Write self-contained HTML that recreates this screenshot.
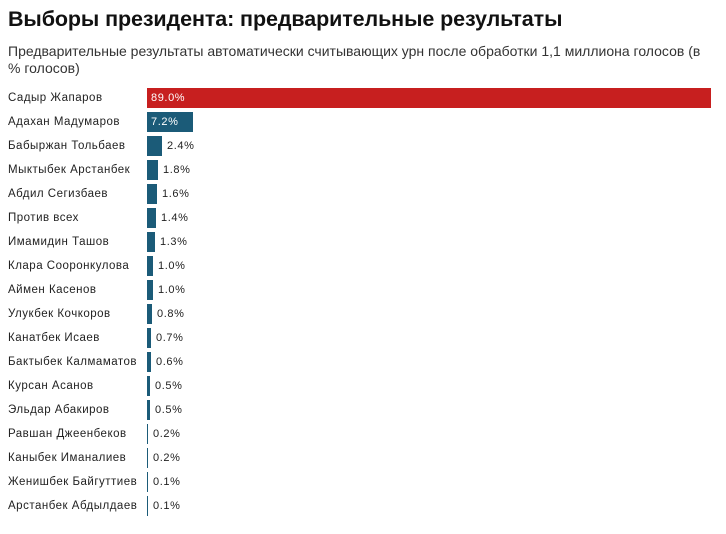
<!DOCTYPE html>
<html><head><meta charset="utf-8"><style>
body{margin:0;width:726px;height:534px;background:#fff;font-family:"Liberation Sans",sans-serif;color:#222;position:relative;overflow:hidden}
.t{position:absolute;left:8px;top:7px;font-size:21.5px;font-weight:bold;color:#111;letter-spacing:-0.1px}
.s{position:absolute;left:8px;top:43px;font-size:14px;line-height:17px;width:720px;color:#333;white-space:nowrap}
.r{position:absolute;left:0;height:24px;width:726px}
.n{position:absolute;left:8px;top:4px;font-size:11.5px;letter-spacing:0.5px}
.b{position:absolute;left:147px;top:0;height:20px;background:#1b5b78}
.v{position:absolute;top:4px;font-size:11px;letter-spacing:0.6px}
</style></head><body>
<div class="t">Выборы президента: предварительные результаты</div>
<div class="s">Предварительные результаты автоматически считывающих урн после обработки 1,1 миллиона голосов (в<br>% голосов)</div>
<div id="c"></div>
<script>
var d=[["Садыр Жапаров",89.0],["Адахан Мадумаров",7.2],["Бабыржан Тольбаев",2.4],["Мыктыбек Арстанбек",1.8],["Абдил Сегизбаев",1.6],["Против всех",1.4],["Имамидин Ташов",1.3],["Клара Сооронкулова",1.0],["Аймен Касенов",1.0],["Улукбек Кочкоров",0.8],["Канатбек Исаев",0.7],["Бактыбек Калмаматов",0.6],["Курсан Асанов",0.5],["Эльдар Абакиров",0.5],["Равшан Джеенбеков",0.2],["Каныбек Иманалиев",0.2],["Женишбек Байгуттиев",0.1],["Арстанбек Абдылдаев",0.1]];
var h="";d.forEach(function(e,i){var w=Math.max(1,Math.round(e[1]*6.34));var y=88+i*24;
var inside=w>40;
h+='<div class="r" style="top:'+y+'px"><div class="n">'+e[0]+'</div><div class="b" style="width:'+w+'px;'+(i==0?'background:#c71f1f':'')+'"></div><div class="v" style="left:'+(inside?151:147+w+5)+'px;'+(inside?'color:#fff':'')+'">'+e[1].toFixed(1)+'%</div></div>';});
document.getElementById("c").innerHTML=h;
</script>
</body></html>
